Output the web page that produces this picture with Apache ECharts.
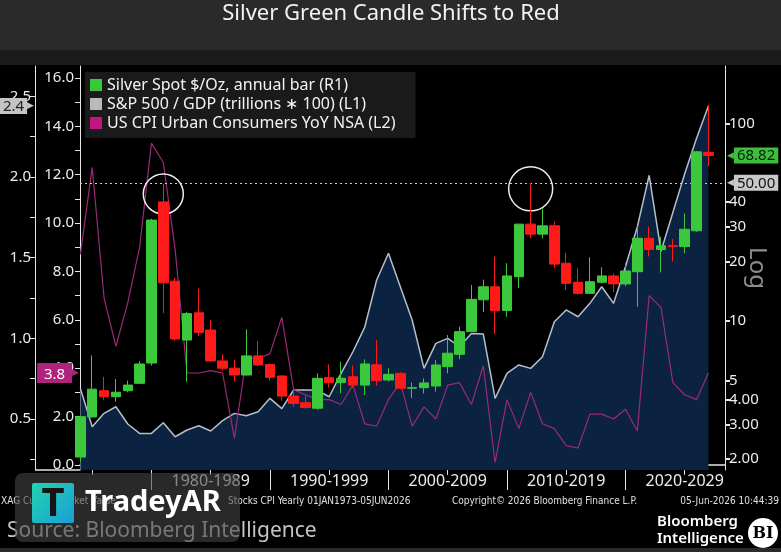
<!DOCTYPE html>
<html>
<head>
<meta charset="utf-8">
<script src="https://cdn.jsdelivr.net/npm/echarts@6/dist/echarts.min.js"></script>
<style>
  html, body { margin: 0; padding: 0; background: #000; }
  #chart { width: 781px; height: 552px; }
</style>
</head>
<body>
<div id="chart"></div>
<script>
// yearly bars, 1973 .. 2026
const years = [1973, 1974, 1975, 1976, 1977, 1978, 1979, 1980, 1981, 1982,
  1983, 1984, 1985, 1986, 1987, 1988, 1989, 1990, 1991, 1992,
  1993, 1994, 1995, 1996, 1997, 1998, 1999, 2000, 2001, 2002,
  2003, 2004, 2005, 2006, 2007, 2008, 2009, 2010, 2011, 2012,
  2013, 2014, 2015, 2016, 2017, 2018, 2019, 2020, 2021, 2022,
  2023, 2024, 2025, 2026]

const silverOpen = [2.05, 3.27, 4.44, 4.14, 4.44, 4.84, 6.13, 40.0, 15.9, 8.01,
  11.0, 9.0, 6.28, 5.77, 5.33, 6.66, 6.03, 5.27, 4.17, 3.86,
  3.62, 5.17, 4.88, 5.22, 4.74, 6.0, 5.03, 5.44, 4.57, 4.6,
  4.69, 5.88, 6.78, 8.83, 12.8, 14.9, 11.3, 16.75, 30.9, 27.5,
  30.3, 19.6, 15.7, 13.8, 15.7, 16.9, 15.4, 17.75, 26.2, 23.0,
  24.0, 23.8, 28.6, 71.3]
const silverClose = [3.28, 4.52, 4.14, 4.36, 4.74, 6.06, 32.4, 15.6, 8.11, 10.9,
  8.76, 6.28, 5.77, 5.33, 6.66, 5.99, 5.19, 4.17, 3.83, 3.65,
  5.13, 4.88, 5.13, 4.74, 6.06, 4.99, 5.37, 4.57, 4.6, 4.86,
  5.99, 6.87, 8.83, 12.87, 14.9, 11.27, 16.9, 30.9, 27.5, 30.3,
  19.4, 15.5, 13.8, 15.8, 16.9, 15.4, 17.9, 26.2, 23.0, 24.0,
  23.8, 29.1, 71.7, 68.82]
const silverLow = [1.95, 3.25, 4.0, 3.91, 4.36, 4.8, 5.95, 10.97, 7.95, 4.93,
  8.4, 6.2, 5.61, 4.93, 5.3, 5.9, 5.0, 3.95, 3.68, 3.6,
  3.55, 4.6, 4.31, 4.6, 4.22, 4.7, 4.93, 4.5, 4.07, 4.3,
  4.39, 5.44, 6.4, 8.8, 11.1, 8.6, 10.5, 14.7, 26.2, 26.2,
  18.5, 14.35, 13.6, 13.7, 15.5, 14.0, 15.0, 11.8, 21.2, 17.6,
  20.0, 22.0, 28.3, 60.8]
const silverHigh = [3.3, 6.7, 5.22, 5.09, 4.99, 6.27, 32.9, 49.5, 16.5, 11.1,
  14.6, 10.1, 6.78, 6.35, 9.08, 7.92, 6.1, 5.3, 4.48, 4.2,
  5.44, 6.03, 6.22, 5.94, 6.4, 8.0, 5.77, 5.5, 4.88, 5.13,
  6.35, 8.49, 9.36, 15.2, 16.2, 21.2, 19.6, 31.0, 49.8, 37.1,
  31.8, 22.1, 18.5, 21.0, 18.7, 17.4, 19.6, 30.0, 30.0, 26.7,
  26.0, 35.0, 72.5, 124]

const spxGdp = [0.69, 0.452, 0.535, 0.576, 0.469, 0.411, 0.411, 0.477, 0.39, 0.432,
  0.458, 0.426, 0.49, 0.535, 0.52, 0.545, 0.628, 0.564, 0.68, 0.68,
  0.678, 0.638, 0.783, 0.917, 1.07, 1.36, 1.527, 1.32, 1.114, 0.814,
  0.969, 1.0, 0.95, 1.03, 1.027, 0.628, 0.783, 0.835, 0.814, 0.886,
  1.103, 1.176, 1.134, 1.217, 1.32, 1.217, 1.444, 1.69, 2.01, 1.54,
  1.78, 2.02, 2.24, 2.44]

const cpiYoy = [8.7, 12.3, 6.9, 4.9, 6.7, 9.0, 13.3, 12.5, 8.9, 3.8,
  3.8, 3.9, 3.8, 1.1, 4.4, 4.4, 4.6, 6.1, 3.1, 2.9,
  2.7, 2.7, 2.5, 3.3, 1.7, 1.6, 2.7, 3.4, 1.6, 2.4,
  1.9, 3.3, 3.4, 2.5, 4.1, 0.1, 2.7, 1.5, 3.0, 1.7,
  1.5, 0.8, 0.7, 2.1, 2.1, 1.9, 2.3, 1.4, 7.0, 6.5,
  3.4, 2.9, 2.7, 3.8]

// axis ticks and labels
const decadeMid = [1974, 1984, 1994, 2004, 2014, 2024]
const decadeLabelAt = [1984, 1994, 2004, 2014, 2024]
const decadeLabels = ["1980-1989", "1990-1999", "2000-2009", "2010-2019", "2020-2029"]
const decadeEdges = [1979, 1989, 1999, 2009, 2019]
const spxTicks = [0.25, 0.5, 0.75, 1.0, 1.25, 1.5, 1.75, 2.0, 2.25, 2.5]
const spxLabels = [0.5, 1.0, 1.5, 2.0, 2.5]
const cpiTicks = [0, 1, 2, 3, 4, 5, 6, 7, 8, 9, 10, 11, 12, 13, 14, 15, 16]
const cpiLabels = [0, 2, 4, 6, 8, 10, 12, 14, 16]
const silverTicks = [2, 3, 4, 5, 10, 20, 30, 40, 100]
const silverTickText = ["2.00", "3.00", "4.00", "5", "10", "20", "30", "40", "100"]
const silverLevel = 50
const peaks = [[1980, 43.9, 40], [2011, 46.6, 44]]

const silverName = "Silver Spot $/Oz, annual bar (R1)"
const spxName = "S&P 500 / GDP (trillions \u2217 100) (L1)"
const cpiName = "US CPI Urban Consumers YoY NSA (L2)"

const FONT = "'Noto Sans', 'Open Sans', sans-serif"
const SMALL = "10px 'DejaVu Sans Condensed', 'Liberation Sans Narrow', sans-serif"
const GREEN = "#3cc83c"
const RED = "#ff1a1a"
const AXIS = "#e6e6e6"

const chart = echarts.init(document.getElementById("chart"))

const last = years.length - 1

// value tag with a small pointer, like the terminal's last-value boxes
function tag(text, bg, fg, pointerLeft, tall) {
  const rich = {
    b: {
      backgroundColor: bg, color: fg, fontSize: 15, fontFamily: FONT,
      padding: tall ? [4, 3, 1, 3] : [1, 3, 0, 3], lineHeight: 18,
    },
    t: { color: bg, fontSize: 9, fontFamily: "'DejaVu Sans', sans-serif", lineHeight: 18 },
  }
  return {
    formatter: pointerLeft ? "{t|\u25C0}{b|" + text + "}" : "{b|" + text + "}{t|\u25B6}",
    rich: rich,
  }
}

const option = {
  backgroundColor: "#000",
  animation: false,
  grid: { left: 80, right: 56, top: 66, bottom: 82, outerBoundsMode: "none", containLabel: false },
  legend: {
    data: [
      { name: silverName, itemStyle: { color: GREEN } },
      { name: spxName, itemStyle: { color: "#b9b9b9" } },
      { name: cpiName, itemStyle: { color: "#c0187a" } },
    ],
    orient: "vertical",
    left: 85,
    top: 72,
    icon: "rect",
    itemWidth: 12,
    itemHeight: 12,
    itemGap: 3,
    itemStyle: { borderWidth: 0 },
    selectedMode: false,
    backgroundColor: "rgba(30,30,30,0.85)",
    padding: [5, 20, 7, 5],
    textStyle: { color: "#f2f2f2", fontSize: 16, fontFamily: FONT },
  },
  xAxis: [
    {
      type: "value",
      min: 1972.97,
      max: 2027.4,
      axisLine: { lineStyle: { color: AXIS, width: 1.5 } },
      axisTick: { customValues: decadeMid, length: 10, lineStyle: { color: AXIS } },
      axisLabel: {
        customValues: decadeLabelAt,
        formatter: (v) => decadeLabels[decadeLabelAt.indexOf(v)],
        color: "#ececec",
        fontSize: 16,
        fontFamily: FONT,
        margin: 3,
      },
      splitLine: { show: false },
    },
    {
      type: "value",
      min: 1972.97,
      max: 2027.4,
      position: "bottom",
      axisLine: { show: false },
      axisTick: { customValues: decadeEdges, length: 20, lineStyle: { color: AXIS } },
      axisLabel: { show: false },
      splitLine: { show: false },
    },
  ],
  yAxis: [
    {
      type: "value",
      position: "left",
      offset: 45,
      min: 0.184,
      max: 2.688,
      axisLine: { show: true, lineStyle: { color: AXIS } },
      axisTick: { show: true, customValues: spxTicks, length: 5, lineStyle: { color: AXIS } },
      axisLabel: {
        customValues: spxLabels,
        formatter: (v) => v.toFixed(1),
        color: "#ececec",
        fontSize: 15,
        fontFamily: FONT,
        margin: 4,
      },
      splitLine: { show: false },
    },
    {
      type: "value",
      position: "left",
      min: -0.21,
      max: 16.49,
      axisLine: { show: true, lineStyle: { color: AXIS } },
      axisTick: { show: true, customValues: cpiTicks, length: 5, lineStyle: { color: AXIS } },
      axisLabel: {
        customValues: cpiLabels,
        formatter: (v) => v.toFixed(1),
        color: "#ececec",
        fontSize: 15,
        fontFamily: FONT,
        margin: 6,
      },
      splitLine: { show: false },
    },
    {
      type: "log",
      logBase: 10,
      position: "right",
      min: 1.763,
      max: 194.9,
      name: "Log",
      nameLocation: "middle",
      nameRotate: -90,
      nameGap: 20,
      nameMoveOverlap: false,
      nameTextStyle: { color: "#8c8c8c", fontSize: 24, fontFamily: FONT },
      axisLine: { show: true, lineStyle: { color: AXIS } },
      axisTick: { show: true, customValues: silverTicks, length: 5, lineStyle: { color: AXIS, width: 2 } },
      axisLabel: {
        customValues: silverTicks,
        formatter: (v) => {
          const i = silverTicks.findIndex((t) => Math.abs(t - v) < t * 1e-6)
          return i < 0 ? "" : silverTickText[i]
        },
        color: "#ececec",
        fontSize: 15,
        fontFamily: FONT,
        margin: 4,
      },
      splitLine: { show: false },
    },
  ],
  series: [
    {
      name: spxName,
      type: "line",
      xAxisIndex: 0,
      yAxisIndex: 0,
      data: years.map((y, i) => [y, spxGdp[i]]),
      symbol: "none",
      lineStyle: { color: "#b4bfcc", width: 1.5 },
      areaStyle: { color: "#0b2341", opacity: 1, origin: "start" },
      z: 2,
      markLine: {
        silent: true,
        symbol: "none",
        data: [
          {
            yAxis: spxGdp[last],
            lineStyle: { color: "rgba(0,0,0,0)", width: 0 },
            label: Object.assign({ position: "start", distance: 46 },
              tag(spxGdp[last].toFixed(1), "#c4c4c4", "#222", false)),
          },
        ],
      },
    },
    {
      name: cpiName,
      type: "line",
      xAxisIndex: 0,
      yAxisIndex: 1,
      data: years.map((y, i) => [y, cpiYoy[i]]),
      symbol: "none",
      lineStyle: { color: "#9c2a76", width: 1.2 },
      z: 3,
      markLine: {
        silent: true,
        symbol: "none",
        data: [
          {
            yAxis: cpiYoy[last],
            lineStyle: { color: "rgba(0,0,0,0)", width: 0 },
            label: Object.assign({ position: "start", distance: 1 },
              tag(" " + cpiYoy[last].toFixed(1) + " ", "#b0237c", "#fff", false, true)),
          },
        ],
      },
    },
    {
      name: silverName,
      type: "candlestick",
      xAxisIndex: 0,
      yAxisIndex: 2,
      barWidth: 10,
      data: years.map((y, i) => [y, silverOpen[i], silverClose[i], silverLow[i], silverHigh[i]]),
      encode: { x: 0, y: [1, 2, 3, 4] },
      itemStyle: {
        color: GREEN,
        color0: RED,
        borderColor: GREEN,
        borderColor0: RED,
        borderWidth: 1,
      },
      z: 5,
      markLine: {
        silent: true,
        symbol: "none",
        data: [
          {
            yAxis: silverLevel,
            lineStyle: { type: [2, 3], color: "#cfcfcf", width: 1.2 },
            label: Object.assign({ position: "end", distance: 2 },
              tag(silverLevel.toFixed(2), "#c8c8c8", "#111", true)),
          },
          {
            yAxis: silverClose[last],
            lineStyle: { color: "rgba(0,0,0,0)", width: 0 },
            label: Object.assign({ position: "end", distance: 2 },
              tag(silverClose[last].toFixed(2), "#3dbf3d", "#0a1a0a", true)),
          },
        ],
      },
      markPoint: {
        silent: true,
        symbol: "circle",
        label: { show: false },
        itemStyle: { color: "rgba(0,0,0,0)", borderColor: "#eeeeee", borderWidth: 1.5 },
        data: peaks.map((p) => ({ coord: [p[0], p[1]], symbolSize: p[2] })),
      },
    },
  ],
  graphic: [
    { type: "rect", shape: { x: 0, y: 0, width: 781, height: 50 }, style: { fill: "#2a2a2a" }, z: 1 },
    { type: "rect", shape: { x: 0, y: 50, width: 781, height: 15 }, style: { fill: "#1b1b1b" }, z: 1 },
    {
      type: "text", x: 391, y: 14, z: 2,
      style: { text: "Silver Green Candle Shifts to Red", fill: "#f2f2f2", font: "22px " + FONT, textAlign: "center", textVerticalAlign: "middle" },
    },
    { type: "line", shape: { x1: 35, y1: 470, x2: 80, y2: 470 }, style: { stroke: AXIS, lineWidth: 1.5 }, z: 2 },
    { type: "rect", shape: { x: 0, y: 548, width: 781, height: 4 }, style: { fill: "#2a2a2a" }, z: 1 },
    { type: "text", x: 1, y: 501, z: 2, style: { text: "XAG Curncy Market Value", fill: "#e0e0e0", font: SMALL, textVerticalAlign: "middle" } },
    { type: "text", x: 228, y: 501, z: 2, style: { text: "Stocks CPI Yearly 01JAN1973-05JUN2026", fill: "#e0e0e0", font: SMALL, textVerticalAlign: "middle" } },
    { type: "text", x: 452, y: 501, z: 2, style: { text: "Copyright\u00a9 2026 Bloomberg Finance L.P.", fill: "#e0e0e0", font: SMALL, textVerticalAlign: "middle" } },
    { type: "text", x: 779, y: 501, z: 2, style: { text: "05-Jun-2026 10:44:39", fill: "#e0e0e0", font: SMALL, textAlign: "right", textVerticalAlign: "middle" } },
    {
      type: "text", x: 7, y: 531, z: 2,
      style: { text: "Source: Bloomberg Intelligence", fill: "#c4c4c4", font: "21px " + FONT, textVerticalAlign: "middle" },
    },
    { type: "text", x: 657, y: 522, z: 2, style: { text: "Bloomberg", fill: "#fff", font: "600 15px " + FONT, textVerticalAlign: "middle" } },
    { type: "text", x: 657, y: 539, z: 2, style: { text: "Intelligence", fill: "#fff", font: "600 15px " + FONT, textVerticalAlign: "middle" } },
    { type: "circle", shape: { cx: 763, cy: 533, r: 15 }, style: { fill: "#fff" }, z: 2 },
    {
      type: "text", x: 763, y: 534, z: 3,
      style: { text: "BI", fill: "#000", font: "bold 16px 'DejaVu Serif', 'Liberation Serif', serif", textAlign: "center", textVerticalAlign: "middle" },
    },
    // watermark
    { type: "rect", shape: { x: 15, y: 473, width: 225, height: 69, r: 8 }, style: { fill: "rgba(68,68,68,0.6)" }, z: 100 },
    {
      type: "rect", shape: { x: 32, y: 483, width: 42, height: 40, r: 2 }, z: 101,
      style: {
        fill: new echarts.graphic.LinearGradient(0, 0, 1, 1, [
          { offset: 0, color: "#22d3b0" },
          { offset: 1, color: "#1a9fd6" },
        ]),
      },
    },
    {
      type: "text", x: 53, y: 505, z: 102,
      style: { text: "T", fill: "#151515", font: "bold 40px " + FONT, textAlign: "center", textVerticalAlign: "middle" },
    },
    {
      type: "text", x: 85, y: 503, z: 102,
      style: { text: "TradeyAR", fill: "#fff", font: "bold 29px " + FONT, textVerticalAlign: "middle" },
    },
  ],
}

chart.setOption(option)
</script>
</body>
</html>
